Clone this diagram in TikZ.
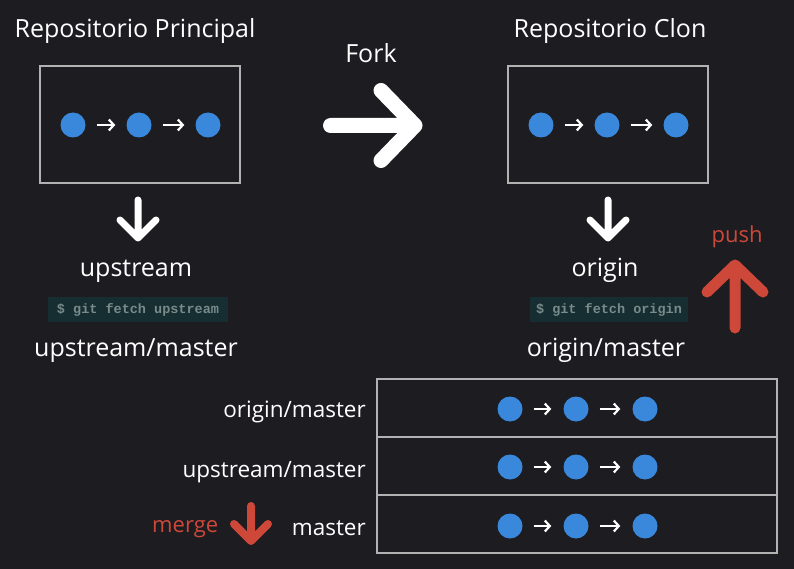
\documentclass[tikz,border=0pt]{standalone}
\usepackage{fontspec}
\setmainfont{Open Sans}
\setmonofont{Liberation Mono}
\usetikzlibrary{arrows.meta}
\definecolor{bg}{RGB}{28,28,33}
\definecolor{dotblue}{RGB}{58,136,220}
\definecolor{gitred}{RGB}{206,72,58}
\definecolor{codebg}{RGB}{22,46,50}
\definecolor{codefg}{RGB}{120,138,138}
\definecolor{frame}{RGB}{178,178,178}
\begin{document}
\begin{tikzpicture}[x=1pt,y=-1pt,
  bigtext/.style={text=white, inner sep=0, font=\fontsize{25}{29}\selectfont},
  midtext/.style={text=white, inner sep=0, font=\fontsize{22.5}{26}\selectfont},
  redtext/.style={text=gitred, inner sep=0, font=\fontsize{22}{26}\selectfont},
  codebox/.style={fill=codebg, inner sep=0, minimum height=25, text=codefg,
    font=\fontsize{13.5}{16}\selectfont\ttfamily\bfseries},
  repobox/.style={draw=frame, line width=1.3, minimum width=200, minimum height=117, inner sep=0},
  rowbox/.style={draw=frame, line width=1.3, minimum width=400, minimum height=58, inner sep=0},
  commit/.style={circle, fill=dotblue, minimum size=25, inner sep=0},
  smallarr/.style={white, line width=2.2, -{Straight Barb[length=5pt,width=11pt]}},
  bigarr/.style={white, line cap=round, line join=round},
]
\fill[bg] (0,0) rectangle (794,569);
\useasboundingbox (0,0) rectangle (794,569);

% titles
\node[bigtext, anchor=base] (t1) at (135,38) {Repositorio Principal};
\node[bigtext, anchor=base] (t2) at (610,38) {Repositorio Clon};
\node[bigtext, anchor=base] (fork) at (371,63) {Fork};

% repo boxes
\node[repobox] (lbox) at (140,124.5) {};
\node[repobox] (rbox) at (608,124.5) {};
\node[commit] (l1) at (73,125) {};
\node[commit] (l2) at (139,125) {};
\node[commit] (l3) at (208,125) {};
\node[commit] (r1) at (541,125) {};
\node[commit] (r2) at (607,125) {};
\node[commit] (r3) at (676,125) {};
\foreach \a/\b in {l1/l2,l2/l3,r1/r2,r2/r3}
  \draw[smallarr] ([xshift=11]\a.east) -- ([xshift=-11]\b.west);

% fork arrow
\coordinate (fa) at (330.5,125.5);
\coordinate (fb) at (415,125.5);
\draw[bigarr, line width=15] (fa) -- (fb) ([shift={(-34,-35)}]fb) -- (fb) -- ([shift={(-34,35)}]fb);

% down arrows
\coordinate (da1) at (138,200);
\coordinate (db1) at (138,238);
\draw[bigarr, line width=7] (da1) -- (db1) ([shift={(-18,-18)}]db1) -- (db1) -- ([shift={(18,-18)}]db1);
\coordinate (da2) at (608,200);
\coordinate (db2) at (608,238);
\draw[bigarr, line width=7] (da2) -- (db2) ([shift={(-18,-18)}]db2) -- (db2) -- ([shift={(18,-18)}]db2);

\node[bigtext, anchor=base] (up) at (136,276) {upstream};
\node[bigtext, anchor=base] (or) at (605,276) {origin};
\node[codebox, minimum width=180] (c1) at (138,309.5) {\$ git fetch upstream};
\node[codebox, minimum width=158] (c2) at (609,309.5) {\$ git fetch origin};
\node[bigtext, anchor=base] (um) at (136,356) {upstream/master};
\node[bigtext, anchor=base] (om) at (606,356) {origin/master};

% push
\node[redtext, anchor=base] (push) at (737,242) {push};
\coordinate (pa) at (735,328);
\coordinate (pb) at (735,265);
\draw[bigarr, gitred, line width=11] (pa) -- (pb) ([shift={(-28,27)}]pb) -- (pb) -- ([shift={(28,27)}]pb);

% table
\node[rowbox] (row1) at (577,408) {};
\node[rowbox] (row2) at (577,466) {};
\node[rowbox] (row3) at (577,524) {};
\foreach \r/\y in {1/409,2/467,3/526}{
  \node[commit] (b\r a) at (510,\y) {};
  \node[commit] (b\r b) at (576,\y) {};
  \node[commit] (b\r c) at (645,\y) {};
  \draw[smallarr] ([xshift=11]b\r a.east) -- ([xshift=-12]b\r b.west);
  \draw[smallarr] ([xshift=11]b\r b.east) -- ([xshift=-12]b\r c.west);
}
\node[midtext, anchor=base east] (lab1) at (366,417) {origin/master};
\node[midtext, anchor=base east] (lab2) at (366,477) {upstream/master};
\node[midtext, anchor=base east] (lab3) at (366,535) {master};

% merge
\node[redtext, anchor=base west] (merge) at (152,532) {merge};
\coordinate (ma) at (251,506);
\coordinate (mb) at (251,541);
\draw[bigarr, gitred, line width=8] (ma) -- (mb) ([shift={(-17,-17)}]mb) -- (mb) -- ([shift={(17,-17)}]mb);
\end{tikzpicture}
\end{document}
